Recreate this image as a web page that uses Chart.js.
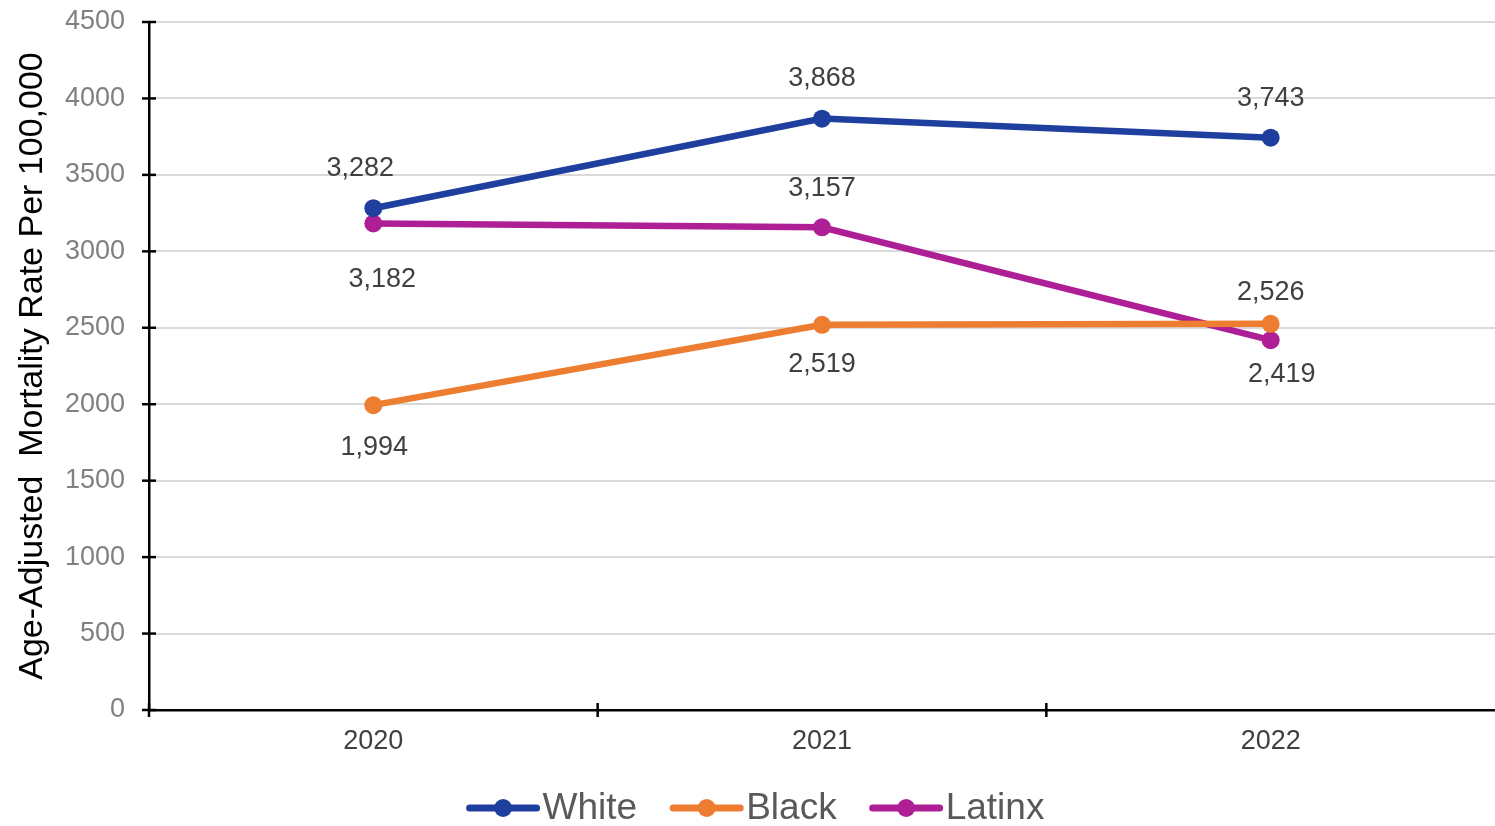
<!DOCTYPE html>
<html>
<head>
<meta charset="utf-8">
<script src="https://cdn.jsdelivr.net/npm/chart.js@4"></script>
<style>
html,body{margin:0;padding:0;background:#fff;}
#wrap{width:1495px;height:826px;position:relative;}
</style>
</head>
<body>
<div id="wrap"><canvas id="c" width="1495" height="826"></canvas></div>
<script>
const categories = ['2020', '2021', '2022'];
const whiteValues = [3282, 3868, 3743];
const blackValues = [1994, 2519, 2526];
const latinxValues = [3182, 3157, 2419];
const seriesNames = ['White', 'Black', 'Latinx'];
const seriesColors = ['#1f3f9f', '#ed7d31', '#ae1f96'];
// data-label offsets from the point: [dy, dx] in px
const whiteLabelPos = [[-40, -13], [-40, 0], [-39, 0]];
const blackLabelPos = [[42, 1], [40, 0], [-31, 0]];
const latinxLabelPos = [[56, 9], [-39, 0], [34, 11]];
const yTicks = [0, 500, 1000, 1500, 2000, 2500, 3000, 3500, 4000, 4500];

const FONT = '"Liberation Sans", Arial, sans-serif';

function makeDs(i, data, pos) {
  return {
    label: seriesNames[i],
    data: data,
    borderColor: seriesColors[i],
    backgroundColor: seriesColors[i],
    borderWidth: 6.5,
    pointRadius: 9,
    pointHoverRadius: 9,
    pointBorderWidth: 0,
    tension: 0,
    labelPos: pos
  };
}

const crossTicks = {
  id: 'crossTicks',
  afterDatasetsDraw(chart) {
    const ctx = chart.ctx;
    const x = chart.scales.x, y = chart.scales.y;
    const ax = chart.chartArea.left, ay = chart.chartArea.bottom;
    ctx.save();
    ctx.strokeStyle = '#000';
    ctx.lineWidth = 2.5;
    y.ticks.forEach(t => {
      const py = y.getPixelForValue(t.value);
      ctx.beginPath(); ctx.moveTo(ax - 7, py); ctx.lineTo(ax + 7, py); ctx.stroke();
    });
    const n = categories.length;
    for (let i = 0; i < n; i++) {
      const px = x.getPixelForTick(i) - (x.getPixelForTick(1) - x.getPixelForTick(0)) / 2;
      ctx.beginPath(); ctx.moveTo(px, ay - 7); ctx.lineTo(px, ay + 7); ctx.stroke();
    }
    ctx.restore();
  }
};

const dataLabels = {
  id: 'dataLabels',
  afterDatasetsDraw(chart) {
    const ctx = chart.ctx;
    ctx.save();
    ctx.font = '27px ' + FONT;
    ctx.fillStyle = '#404040';
    ctx.textAlign = 'center';
    ctx.textBaseline = 'middle';
    chart.data.datasets.forEach((ds, di) => {
      const meta = chart.getDatasetMeta(di);
      meta.data.forEach((pt, i) => {
        const p = ds.labelPos[i];
        const txt = ds.data[i].toLocaleString('en-US');
        ctx.fillText(txt, pt.x + p[1], pt.y + p[0]);
      });
    });
    ctx.restore();
  }
};

const customLegend = {
  id: 'customLegend',
  afterDraw(chart) {
    const ctx = chart.ctx;
    ctx.save();
    ctx.font = '37px ' + FONT;
    ctx.textBaseline = 'middle';
    const markW = 73, gapText = 3, gapItem = 33;
    const items = chart.data.datasets.map(ds => ({ label: ds.label, color: ds.borderColor, w: ctx.measureText(ds.label).width }));
    let total = 0;
    items.forEach((it, i) => { total += markW + gapText + it.w + (i ? gapItem : 0); });
    let x = (chart.width - total) / 2 + 8;
    const cy = 808;
    items.forEach((it, i) => {
      if (i) x += gapItem;
      ctx.strokeStyle = it.color; ctx.lineWidth = 7; ctx.lineCap = 'round';
      ctx.beginPath(); ctx.moveTo(x + 3, cy); ctx.lineTo(x + markW - 3, cy); ctx.stroke();
      ctx.fillStyle = it.color;
      ctx.beginPath(); ctx.arc(x + markW / 2, cy, 9, 0, Math.PI * 2); ctx.fill();
      x += markW + gapText;
      ctx.fillStyle = '#595959';
      ctx.textAlign = 'left';
      ctx.fillText(it.label, x, cy + 1);
      x += it.w;
    });
    ctx.restore();
  }
};

new Chart(document.getElementById('c'), {
  type: 'line',
  data: {
    labels: categories,
    datasets: [
      makeDs(0, whiteValues, whiteLabelPos),
      makeDs(1, blackValues, blackLabelPos),
      makeDs(2, latinxValues, latinxLabelPos)
    ]
  },
  options: {
    responsive: false,
    animation: false,
    events: [],
    layout: { autoPadding: false, padding: { top: 22, right: 0, bottom: 56, left: 0 } },
    plugins: { legend: { display: false }, tooltip: { enabled: false } },
    scales: {
      x: {
        offset: true,
        grid: { display: false, drawTicks: false },
        border: { display: true, color: '#000', width: 2.5 },
        ticks: { color: '#404040', font: { size: 27, family: FONT }, padding: 15 },
        afterFit(s) { s.height = 60; s.paddingLeft = 0; s.paddingRight = 0; }
      },
      y: {
        min: 0, max: 4500,
        afterBuildTicks(s) { s.ticks = yTicks.map(v => ({ value: v })); },
        grid: { color: '#d9d9d9', lineWidth: 2, drawTicks: false },
        border: { display: true, color: '#000', width: 2.5 },
        ticks: { color: '#808080', font: { size: 27, family: FONT }, padding: 24, callback: v => String(v) },
        title: { display: true, text: 'Age-Adjusted  Mortality Rate Per 100,000', color: '#000', font: { size: 34, family: FONT }, padding: { top: 12, bottom: 0 } },
        afterFit(s) { s.width = 149; s.paddingTop = 0; s.paddingBottom = 0; }
      }
    }
  },
  plugins: [crossTicks, dataLabels, customLegend]
});
</script>
</body>
</html>
